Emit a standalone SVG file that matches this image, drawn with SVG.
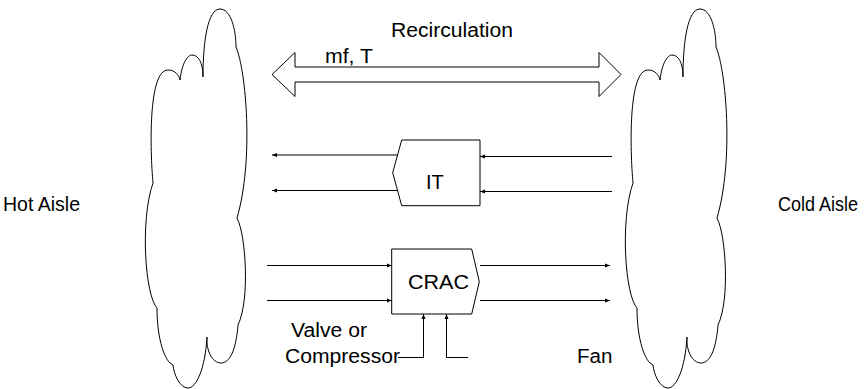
<svg xmlns="http://www.w3.org/2000/svg" width="867" height="389" viewBox="0 0 867 389">
  <style>
    .t { font-family: "Liberation Sans", Arial, sans-serif; font-size: 20px; fill: #000; }
    .s { fill: #fff; stroke: #000; stroke-width: 1; }
    .c { fill: none; stroke: #000; stroke-width: 1; }
  </style>
  <defs>
    <marker id="ah" markerUnits="userSpaceOnUse" markerWidth="6" markerHeight="6" viewBox="0 0 6 6" refX="5" refY="3" orient="auto">
      <path d="M0,1 L5,3 L0,5 Z" fill="#000"/>
    </marker>
    <path id="cloud" d="M203,77 C203,40 208,9 220,9 C231,9 236,30 236,47 C246,70 254,160 237,218 C246,235 250,300 238,325 C236,350 230,363 221,363 C212,363 206,350 207,337 C205,370 196,388 188,388 C180,388 174,375 173,365 C165,362 157,340 157,308 C145,295 140,220 153,183 C150,150 148,70 168,70 C175,70 179,75 180,80 C182,62 188,55 192,55 C198,55 203,62 203,77 Z"/>
  </defs>
  <rect width="867" height="389" fill="#fff"/>

  <g id="hot-aisle">
    <use href="#cloud" class="s"/>
    <text class="t" x="3" y="211" textLength="77" lengthAdjust="spacingAndGlyphs">Hot Aisle</text>
  </g>

  <g id="cold-aisle">
    <use href="#cloud" class="s" transform="translate(480,0)"/>
    <text class="t" x="778" y="211" font-size="18.5" textLength="80" lengthAdjust="spacingAndGlyphs">Cold Aisle</text>
  </g>

  <g id="recirculation">
    <polygon class="s" points="272,74.5 295,52.5 295,67 599,67 599,52.5 621,74.5 599,96.5 599,82 295,82 295,96.5"/>
    <text class="t" x="391" y="37" textLength="122" lengthAdjust="spacingAndGlyphs">Recirculation</text>
    <text class="t" x="325" y="63" textLength="48" lengthAdjust="spacingAndGlyphs">mf, T</text>
  </g>

  <g id="it">
    <polygon class="s" points="401.7,140 480,140 480,205.7 401.7,205.7 392.7,172.7"/>
    <text class="t" x="426" y="189">IT</text>
  </g>

  <g id="crac">
    <polygon class="s" points="391.7,249 471.7,249 479.3,281.7 471.7,314 391.7,314"/>
    <text class="t" x="408" y="289" textLength="61" lengthAdjust="spacingAndGlyphs">CRAC</text>
  </g>

  <g id="valve">
    <text class="t" x="291" y="337" textLength="76" lengthAdjust="spacingAndGlyphs">Valve or</text>
    <text class="t" x="285" y="363" textLength="115" lengthAdjust="spacingAndGlyphs">Compressor</text>
  </g>

  <g id="fan">
    <text class="t" x="577" y="363" textLength="35.5" lengthAdjust="spacingAndGlyphs">Fan</text>
  </g>

  <g id="connectors">
    <line class="c" x1="397.5" y1="155" x2="272" y2="155" marker-end="url(#ah)"/>
    <line class="c" x1="397.5" y1="190.5" x2="272" y2="190.5" marker-end="url(#ah)"/>
    <line class="c" x1="612" y1="156.5" x2="480" y2="156.5" marker-end="url(#ah)"/>
    <line class="c" x1="612" y1="191.5" x2="480" y2="191.5" marker-end="url(#ah)"/>
    <line class="c" x1="267" y1="265.5" x2="391.7" y2="265.5" marker-end="url(#ah)"/>
    <line class="c" x1="267" y1="300.5" x2="391.7" y2="300.5" marker-end="url(#ah)"/>
    <line class="c" x1="480" y1="265.5" x2="610" y2="265.5" marker-end="url(#ah)"/>
    <line class="c" x1="480" y1="300.5" x2="610" y2="300.5" marker-end="url(#ah)"/>
    <polyline class="c" points="398,357.5 423.5,357.5 423.5,314" marker-end="url(#ah)"/>
    <polyline class="c" points="468,357.5 446.5,357.5 446.5,314" marker-end="url(#ah)"/>
  </g>
</svg>
